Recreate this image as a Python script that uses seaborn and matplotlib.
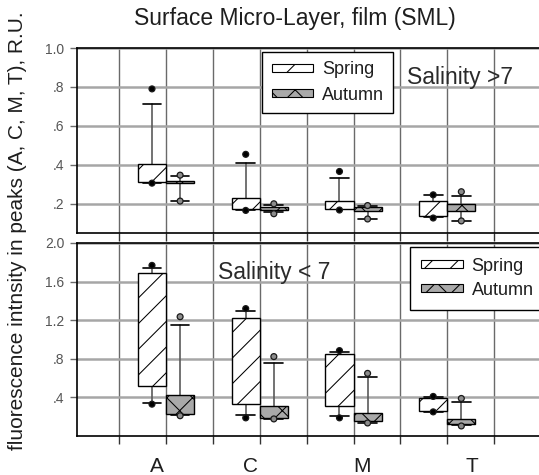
import matplotlib
matplotlib.use("Agg")
import matplotlib.pyplot as plt
import matplotlib.transforms as mtransforms
from matplotlib.patches import Patch
import numpy as np
import pandas as pd
import seaborn as sns

# ---------------- data ----------------
categories = ["A", "C", "M", "T"]
seasons = ["Spring", "Autumn"]

# Salinity > 7 (upper panel): 5th, 10th, 25th, 50th, 75th, 90th, 95th percentiles
hi_spring_p05 = [0.306, 0.166, 0.168, 0.127]
hi_spring_p10 = [0.308, 0.170, 0.172, 0.133]
hi_spring_q1 = [0.313, 0.171, 0.175, 0.138]
hi_spring_med = [0.330, 0.190, 0.190, 0.170]
hi_spring_q3 = [0.406, 0.230, 0.215, 0.215]
hi_spring_p90 = [0.714, 0.409, 0.332, 0.246]
hi_spring_p95 = [0.790, 0.454, 0.366, 0.246]

hi_autumn_p05 = [0.214, 0.149, 0.122, 0.112]
hi_autumn_p10 = [0.215, 0.158, 0.122, 0.112]
hi_autumn_q1 = [0.305, 0.168, 0.163, 0.165]
hi_autumn_med = [0.310, 0.176, 0.172, 0.180]
hi_autumn_q3 = [0.318, 0.186, 0.181, 0.200]
hi_autumn_p90 = [0.342, 0.195, 0.188, 0.240]
hi_autumn_p95 = [0.347, 0.200, 0.191, 0.262]

# Salinity < 7 (lower panel)
lo_spring_p05 = [0.330, 0.188, 0.188, 0.250]
lo_spring_p10 = [0.347, 0.216, 0.208, 0.252]
lo_spring_q1 = [0.518, 0.330, 0.313, 0.257]
lo_spring_med = [1.049, 0.618, 0.458, 0.300]
lo_spring_q3 = [1.688, 1.219, 0.851, 0.393]
lo_spring_p90 = [1.743, 1.300, 0.872, 0.400]
lo_spring_p95 = [1.768, 1.320, 0.885, 0.410]

lo_autumn_p05 = [0.210, 0.177, 0.135, 0.104]
lo_autumn_p10 = [0.220, 0.180, 0.139, 0.111]
lo_autumn_q1 = [0.225, 0.190, 0.156, 0.122]
lo_autumn_med = [0.250, 0.200, 0.190, 0.150]
lo_autumn_q3 = [0.420, 0.310, 0.240, 0.180]
lo_autumn_p90 = [1.149, 0.757, 0.615, 0.357]
lo_autumn_p95 = [1.236, 0.823, 0.649, 0.389]

top_ticks = [0.2, 0.4, 0.6, 0.8, 1.0]
top_ticklabels = [".2", ".4", ".6", ".8", "1.0"]
bot_ticks = [0.4, 0.8, 1.2, 1.6, 2.0]
bot_ticklabels = [".4", ".8", "1.2", "1.6", "2.0"]

title = "Surface Micro-Layer, film (SML)"
ylabel = "fluorescence intnsity in peaks (A, C, M, T), R.U."
note_hi = "Salinity >7"
note_lo = "Salinity < 7"

# ---------------- style ----------------
# The figure is rendered at 77 dpi so that hatch spacing is ~13 px;
# point-based sizes are scaled by S to keep their pixel size.
DPI = 77
S = 100 / DPI

sns.set_theme(style="white")
plt.rcParams["font.family"] = ["Liberation Sans", "DejaVu Sans"]
plt.rcParams["hatch.linewidth"] = 0.75 * S
plt.rcParams["hatch.color"] = "black"

SPRING_FC = "white"
AUTUMN_FC = "#a9a9a9"
TXT = "#1e1e1e"
TICK_TXT = "#555555"

W, H = 539, 475
fig = plt.figure(figsize=(W / DPI, H / DPI), dpi=DPI)
ax_top = fig.add_axes([77 / W, 1 - 233 / H, 464 / W, 185 / H])
ax_bot = fig.add_axes([77 / W, 1 - 436 / H, 464 / W, 193 / H])


def make_stats(p10, q1, med, q3, p90):
    return [
        dict(whislo=a, q1=b, med=c, q3=d, whishi=e, fliers=[])
        for a, b, c, d, e in zip(p10, q1, med, q3, p90)
    ]


def draw_panel(ax, spring, autumn, ylim, ticks, ticklabels):
    pos = np.arange(1, len(categories) + 1)
    box_w = 0.3
    for stats, offset, fc, hatch in [
        (spring, -box_w / 2, SPRING_FC, "/"),
        (autumn, box_w / 2, AUTUMN_FC, "x"),
    ]:
        art = ax.bxp(
            make_stats(*stats[1:6]),
            positions=pos + offset,
            widths=box_w,
            capwidths=0.2,
            patch_artist=True,
            showfliers=False,
            manage_ticks=False,
            boxprops=dict(edgecolor="black", linewidth=1.0 * S),
            whiskerprops=dict(color="#5a5a5a", linewidth=1.2 * S),
            capprops=dict(color="black", linewidth=1.2 * S),
            medianprops=dict(color="black", linewidth=1.0 * S),
        )
        for b in art["boxes"]:
            b.set_facecolor(fc)
            b.set_hatch(hatch)
            b.set_zorder(3)

    # 5th / 95th percentile points
    rows = []
    for season, stats, offset in [("Spring", spring, -box_w / 2), ("Autumn", autumn, box_w / 2)]:
        for i in range(len(categories)):
            for v in (stats[0][i], stats[6][i]):
                rows.append(dict(x=pos[i] + offset, y=v, season=season))
    df = pd.DataFrame(rows)
    sns.scatterplot(
        data=df, x="x", y="y", hue="season",
        palette={"Spring": "black", "Autumn": "#8c8c8c"},
        edgecolor="#1a1a1a", linewidth=0.9 * S, s=18 * S * S, legend=False, ax=ax, zorder=5,
    )

    ax.set_xlim(0.05, 5.0)
    ax.set_ylim(*ylim)
    ax.set_xticks(np.arange(0.5, 5.0, 0.5))
    ax.set_xticklabels([])
    ax.set_yticks(ticks)
    ax.set_yticklabels(ticklabels)
    ax.set_xlabel("")
    ax.set_ylabel("")
    ax.set_axisbelow(True)
    ax.grid(axis="y", color="#a6a6a6", linewidth=1.8 * S)
    ax.grid(axis="x", color="#6a6a6a", linewidth=1.0 * S)
    ax.tick_params(axis="y", direction="out", length=5 * S, width=1.0 * S, color="#6a6a6a",
                   labelsize=10 * S, labelcolor=TICK_TXT, pad=4 * S, left=True)
    ax.tick_params(axis="x", direction="out", length=6 * S, width=1.0 * S, color="#333333",
                   bottom=True)
    for sp in ax.spines.values():
        sp.set_color("black")
        sp.set_linewidth(1.2 * S)


spring_hi = [hi_spring_p05, hi_spring_p10, hi_spring_q1, hi_spring_med, hi_spring_q3, hi_spring_p90, hi_spring_p95]
autumn_hi = [hi_autumn_p05, hi_autumn_p10, hi_autumn_q1, hi_autumn_med, hi_autumn_q3, hi_autumn_p90, hi_autumn_p95]
spring_lo = [lo_spring_p05, lo_spring_p10, lo_spring_q1, lo_spring_med, lo_spring_q3, lo_spring_p90, lo_spring_p95]
autumn_lo = [lo_autumn_p05, lo_autumn_p10, lo_autumn_q1, lo_autumn_med, lo_autumn_q3, lo_autumn_p90, lo_autumn_p95]

draw_panel(ax_top, spring_hi, autumn_hi, (0.05, 1.0), top_ticks, top_ticklabels)
draw_panel(ax_bot, spring_lo, autumn_lo, (0.0, 2.0), bot_ticks, bot_ticklabels)

# legends
handles = [
    Patch(facecolor=SPRING_FC, edgecolor="black", hatch="/", linewidth=0.8 * S, label=seasons[0]),
    Patch(facecolor=AUTUMN_FC, edgecolor="black", hatch="x", linewidth=0.8 * S, label=seasons[1]),
]
for ax, anchor, lspace, bpad in [(ax_top, (0.399, 0.978), 0.45, 0.52),
                                 (ax_bot, (0.718, 0.979), 0.38, 0.6)]:
    leg = ax.legend(
        handles=handles, loc="upper left", bbox_to_anchor=anchor, borderaxespad=0,
        fontsize=13 * S, handlelength=2.3, handleheight=0.3, handletextpad=0.5,
        labelspacing=lspace, borderpad=bpad, frameon=True, fancybox=False,
        framealpha=1, edgecolor="black",
    )
    leg.get_frame().set_linewidth(1.0 * S)
    for t in leg.get_texts():
        t.set_color(TXT)

# panel notes
ax_top.text(0.711, 0.842, note_hi, transform=ax_top.transAxes, ha="left", va="center",
            fontsize=16.5 * S, color="#2a2a2a", zorder=6)
ax_bot.text(0.304, 0.845, note_lo, transform=ax_bot.transAxes, ha="left", va="center",
            fontsize=16.5 * S, color="#2a2a2a", zorder=6)

# category labels below the lower panel
label_x = [0.905, 1.897, 3.092, 4.265]
trans = mtransforms.blended_transform_factory(ax_bot.transData, fig.transFigure)
for x, cat in zip(label_x, categories):
    ax_bot.text(x, 1 - 466 / H, cat, transform=trans, ha="center", va="center",
                fontsize=15 * S, color=TXT, clip_on=False)

fig.text(295 / W, 1 - 19 / H, title, ha="center", va="center", fontsize=16.5 * S, color=TXT)
fig.text(18 / W, 1 - 231 / H, ylabel, rotation=90, ha="center", va="center",
         fontsize=15 * S, color=TXT)

fig.savefig("out.png", dpi=DPI)
